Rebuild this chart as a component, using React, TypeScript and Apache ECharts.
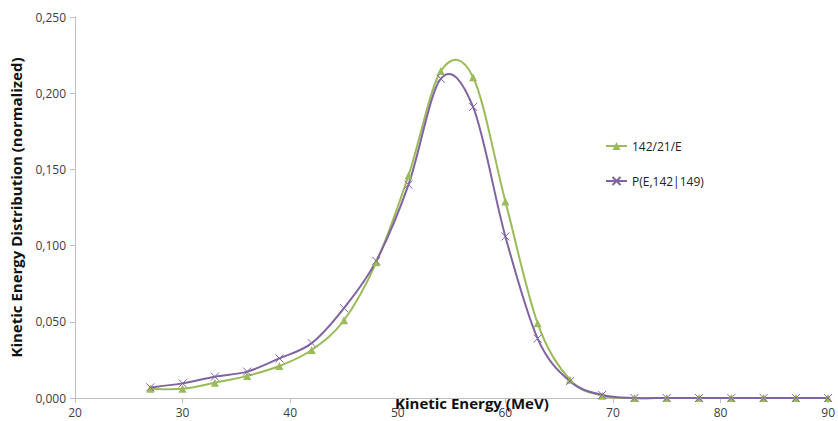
import React, { useEffect, useRef } from "react";
import * as echarts from "echarts";

const energies = [27, 30, 33, 36, 39, 42, 45, 48, 51, 54, 57, 60, 63, 66, 69, 72, 75, 78, 81, 84, 87, 90];
const series142 = [0.006, 0.006, 0.010, 0.0145, 0.021, 0.0315, 0.051, 0.089, 0.146, 0.2145, 0.2105, 0.129, 0.049, 0.012, 0.0015, 0, 0, 0, 0, 0, 0, 0];
const seriesP = [0.007, 0.0096, 0.014, 0.0173, 0.026, 0.036, 0.059, 0.090, 0.140, 0.2095, 0.191, 0.106, 0.039, 0.011, 0.002, 0, 0, 0, 0, 0, 0, 0];
const seriesNames = ["142/21/E", "P(E,142|149)"];
const colors = ["#9BBB59", "#8064A2"];

function smoothSeries(values: number[], color: string, z: number) {
  return {
    type: "custom",
    silent: true,
    z,
    data: energies.slice(0, -1).map((e, i) => [e, values[i]]),
    renderItem: (params: any, api: any) => {
      const i = params.dataIndex;
      const n = energies.length;
      const pt = (k: number) => {
        const kk = Math.max(0, Math.min(n - 1, k));
        return api.coord([energies[kk], values[kk]]);
      };
      const p0 = pt(i - 1);
      const p1 = pt(i);
      const p2 = pt(i + 1);
      const p3 = pt(i + 2);
      const t = 1 / 6;
      return {
        type: "bezierCurve",
        shape: {
          x1: p1[0],
          y1: p1[1],
          x2: p2[0],
          y2: p2[1],
          cpx1: p1[0] + (p2[0] - p0[0]) * t,
          cpy1: p1[1] + (p2[1] - p0[1]) * t,
          cpx2: p2[0] - (p3[0] - p1[0]) * t,
          cpy2: p2[1] - (p3[1] - p1[1]) * t,
        },
        style: { stroke: color, lineWidth: 2, fill: null },
      };
    },
  };
}

export default function App() {
  const ref = useRef<HTMLDivElement>(null);
  useEffect(() => {
    if (!ref.current) return;
    const chart = echarts.init(ref.current, null, { renderer: "svg" });
    const font = "'Open Sans', 'Liberation Sans', sans-serif";
    chart.setOption({
      animation: false,
      backgroundColor: "#ffffff",
      textStyle: { fontFamily: font },
      grid: { left: 72, right: 7, top: 17, bottom: 23, containLabel: false },
      legend: {
        orient: "vertical",
        left: 600,
        top: 135,
        itemGap: 23,
        itemWidth: 21,
        itemHeight: 10,
        textStyle: { fontSize: 12, color: "#222", fontFamily: font },
        data: [
          { name: seriesNames[0], lineStyle: { color: colors[0], width: 2, opacity: 1 } },
          { name: seriesNames[1], lineStyle: { color: colors[1], width: 2, opacity: 1 } },
        ],
      },
      xAxis: {
        type: "value",
        min: 20,
        max: 90,
        interval: 10,
        axisLine: { show: true, lineStyle: { color: "#bfbfbf", width: 1 } },
        axisTick: { show: true, length: 5, lineStyle: { color: "#bfbfbf" } },
        axisLabel: { fontSize: 12, color: "#404040", margin: 8, fontFamily: font },
        splitLine: { show: false },
      },
      yAxis: {
        type: "value",
        min: 0,
        max: 0.25,
        interval: 0.05,
        name: "Kinetic Energy Distribution (normalized)",
        nameLocation: "middle",
        nameGap: 52,
        nameTextStyle: { fontSize: 15, fontWeight: "bold", color: "#111", fontFamily: font },
        axisLine: { show: true, lineStyle: { color: "#bfbfbf", width: 1 } },
        axisTick: { show: true, length: 5, lineStyle: { color: "#bfbfbf" } },
        axisLabel: {
          fontSize: 12,
          color: "#404040",
          margin: 9,
          fontFamily: font,
          formatter: (v: number) => v.toFixed(3).replace(".", ","),
        },
        splitLine: { show: false },
      },
      graphic: [
        {
          type: "text",
          left: 395,
          top: 395,
          z: 100,
          style: {
            text: "Kinetic Energy (MeV)",
            fontSize: 15,
            fontWeight: "bold",
            fill: "#111",
            fontFamily: font,
          },
        },
      ],
      series: [
        smoothSeries(series142, colors[0], 1),
        smoothSeries(seriesP, colors[1], 2),
        {
          name: seriesNames[0],
          type: "line",
          data: energies.map((e, i) => [e, series142[i]]),
          symbol: "triangle",
          symbolSize: 8,
          lineStyle: { color: colors[0], width: 0, opacity: 0 },
          itemStyle: { color: colors[0] },
          z: 3,
        },
        {
          name: seriesNames[1],
          type: "line",
          data: energies.map((e, i) => [e, seriesP[i]]),
          symbol: "path://M0,0L10,10M10,0L0,10",
          symbolSize: 8,
          lineStyle: { color: colors[1], width: 0, opacity: 0 },
          itemStyle: { color: colors[1], borderColor: colors[1], borderWidth: 1 },
          z: 4,
        },
      ],
    });
    return () => chart.dispose();
  }, []);
  return <div ref={ref} style={{ width: 838, height: 421, position: "absolute", left: 0, top: 0 }} />;
}
